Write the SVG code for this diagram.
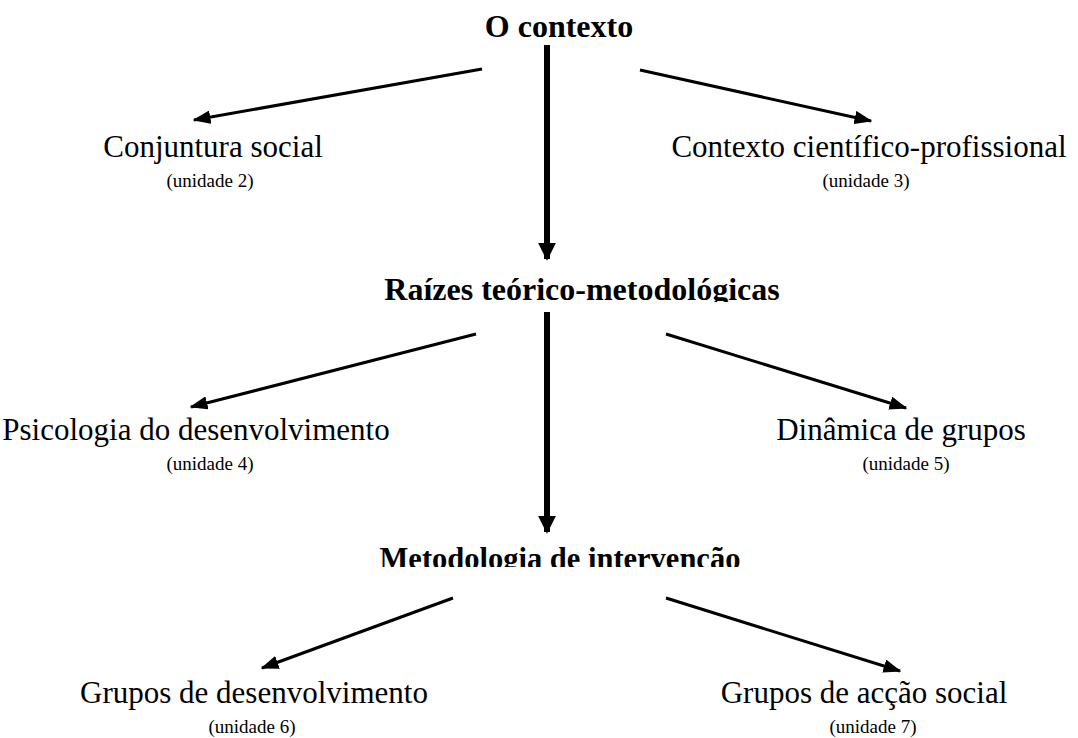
<svg xmlns="http://www.w3.org/2000/svg" width="1078" height="738" viewBox="0 0 1078 738">
<style>
.h{font-family:"Liberation Serif","Times New Roman",serif;font-weight:bold;font-size:32px;fill:#000;text-anchor:middle}
.t{font-family:"Liberation Serif","Times New Roman",serif;font-size:31px;fill:#000;text-anchor:middle}
.u{font-family:"Liberation Serif","Times New Roman",serif;font-size:19px;fill:#000;text-anchor:middle}
.thin{stroke:#000;stroke-width:3;fill:none}
.thick{stroke:#000;stroke-width:6;fill:none}
</style>
<defs>
<marker id="ah" viewBox="0 0 12 9" refX="11" refY="4.5" markerWidth="6" markerHeight="4.5" markerUnits="strokeWidth" orient="auto"><path d="M0,0 L12,4.5 L0,9 z" fill="#000"/></marker>
<marker id="ahb" viewBox="0 0 10 10" refX="9" refY="5" markerWidth="3" markerHeight="3" markerUnits="strokeWidth" orient="auto"><path d="M0,0 L10,5 L0,10 z" fill="#000"/></marker>
<clipPath id="c1"><rect x="0" y="260" width="1078" height="42"/></clipPath>
<clipPath id="c2"><rect x="0" y="520" width="1078" height="47"/></clipPath>
</defs>
<g id="connectors">
<line class="thick" x1="547" y1="45" x2="547" y2="259" marker-end="url(#ahb)"/>
<line class="thick" x1="547" y1="312" x2="547" y2="532" marker-end="url(#ahb)"/>
<line class="thin" x1="482" y1="69" x2="194" y2="120" marker-end="url(#ah)"/>
<line class="thin" x1="640" y1="70" x2="871" y2="121" marker-end="url(#ah)"/>
<line class="thin" x1="476" y1="334" x2="191" y2="407" marker-end="url(#ah)"/>
<line class="thin" x1="666" y1="334" x2="906" y2="408" marker-end="url(#ah)"/>
<line class="thin" x1="453" y1="598" x2="262" y2="668" marker-end="url(#ah)"/>
<line class="thin" x1="666" y1="598" x2="900" y2="671" marker-end="url(#ah)"/>
</g>
<g id="n-contexto"><text class="h" x="559" y="37">O contexto</text></g>
<g id="n-conjuntura"><text class="t" x="213" y="157">Conjuntura social</text><text class="u" x="210" y="187">(unidade 2)</text></g>
<g id="n-cientifico"><text class="t" x="869" y="157">Contexto científico-profissional</text><text class="u" x="866" y="187">(unidade 3)</text></g>
<g id="n-raizes" clip-path="url(#c1)"><text class="h" x="582" y="300">Raízes teórico-metodológicas</text></g>
<g id="n-psicologia"><text class="t" x="196" y="440">Psicologia do desenvolvimento</text><text class="u" x="210" y="470">(unidade 4)</text></g>
<g id="n-dinamica"><text class="t" x="901" y="440">Dinâmica de grupos</text><text class="u" x="906" y="470">(unidade 5)</text></g>
<g id="n-metodologia" clip-path="url(#c2)"><text class="h" x="560" y="569" style="font-size:30.5px">Metodologia de intervencão</text></g>
<g id="n-desenv"><text class="t" x="254" y="703">Grupos de desenvolvimento</text><text class="u" x="252" y="733">(unidade 6)</text></g>
<g id="n-accao"><text class="t" x="864" y="703">Grupos de acção social</text><text class="u" x="873" y="733">(unidade 7)</text></g>
</svg>
